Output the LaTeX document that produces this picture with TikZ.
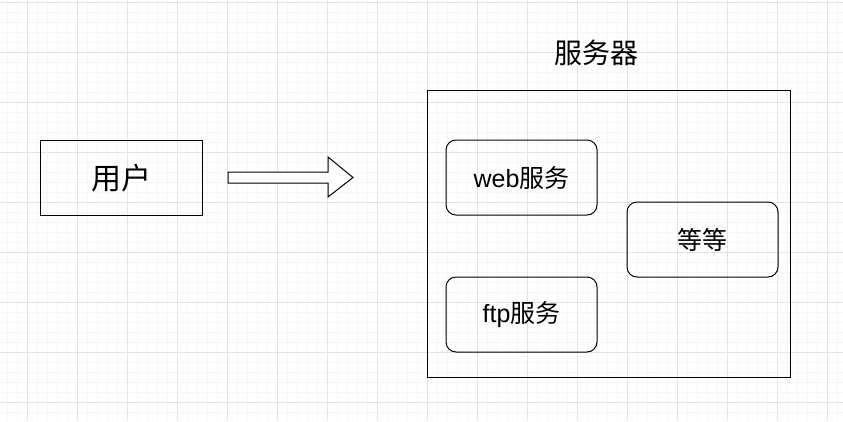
\documentclass[tikz,border=0pt]{standalone}
\usepackage{fontspec}
\setmainfont{Liberation Sans}
\newfontfamily\cjk{Noto Sans CJK SC}
\usetikzlibrary{positioning}

\definecolor{gridminor}{HTML}{F6F6F6}
\definecolor{gridmajor}{HTML}{E4E4E4}

\tikzset{
  box/.style={draw=black, line width=1pt, rectangle, minimum width=151pt, minimum height=75pt, inner sep=0pt},
  svc/.style={box, rounded corners=10pt, font=\fontsize{25}{29}\selectfont},
}

\begin{document}
\begin{tikzpicture}[x=1pt, y=-1pt, line width=1pt]
  \useasboundingbox (0,0) rectangle (843,421);
  % grid
  \foreach \x in {7,17,...,843} \draw[gridminor] (\x,0) -- (\x,421);
  \foreach \y in {2,12,...,421} \draw[gridminor] (0,\y) -- (843,\y);
  \foreach \x in {27,77,...,843} \draw[gridmajor] (\x,0) -- (\x,421);
  \foreach \y in {2,52,...,421} \draw[gridmajor] (0,\y) -- (843,\y);

  \node[box, minimum width=162pt, font=\cjk\fontsize{30}{34}\selectfont] (user) at (121,178) {用户};
  \node[box, minimum width=363pt, minimum height=287pt] (srv) at (608.5,233.5) {};
  \node[inner sep=0pt, font=\cjk\fontsize{28}{32}\selectfont] (srvlabel) at (596.5,53) {服务器};
  \node[svc] (web) at (521.5,177.5) {web{\cjk 服务}};
  \node[svc] (ftp) at (521.5,314.5) {ftp{\cjk 服务}};
  \node[svc, font=\cjk\fontsize{25}{29}\selectfont] (etc) at (702.5,239.5) {等等};

  % big arrow
  \draw[fill=white] (228,172) -- (328,172) -- (328,157) -- (353,177.5)
    -- (328,197) -- (328,183) -- (228,183) -- cycle;
\end{tikzpicture}
\end{document}
